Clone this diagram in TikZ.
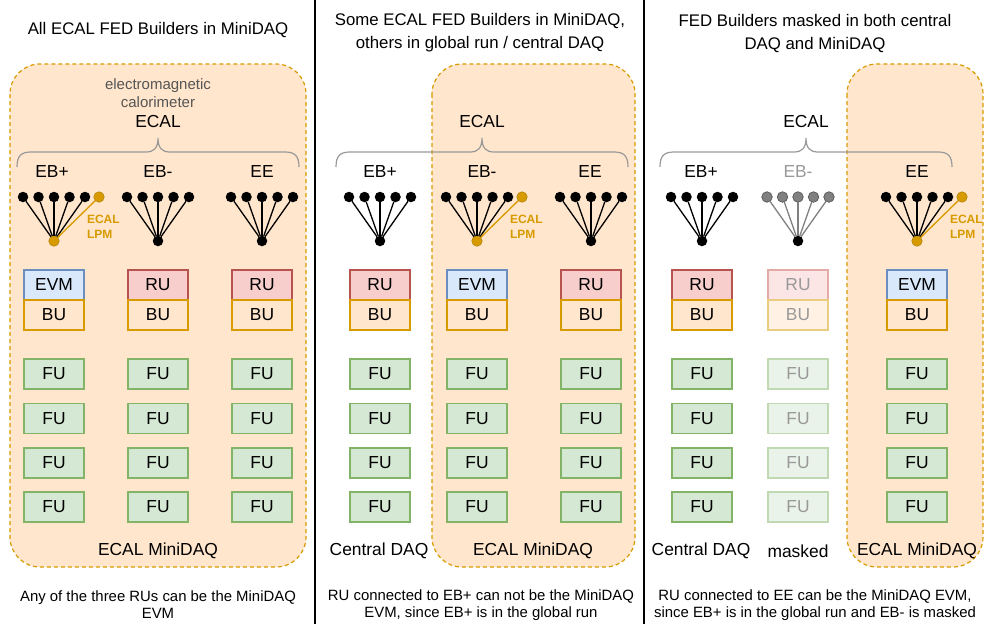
\documentclass[tikz,border=0pt]{standalone}
\usepackage{fontspec}
\setmainfont{Liberation Sans}
\definecolor{orfill}{HTML}{FFE6CC}
\definecolor{ordraw}{HTML}{D79B00}
\definecolor{rufill}{HTML}{F8CECC}
\definecolor{rudraw}{HTML}{B85450}
\definecolor{evfill}{HTML}{DAE8FC}
\definecolor{evdraw}{HTML}{6C8EBF}
\definecolor{fufill}{HTML}{D5E8D4}
\definecolor{fudraw}{HTML}{82B366}
\definecolor{bracegray}{HTML}{999999}
\definecolor{txtgray}{HTML}{555555}
\definecolor{fadetxt}{HTML}{999999}
\definecolor{rufade}{HTML}{FBE5E5}
\definecolor{rudrawfade}{HTML}{E3AAA8}
\definecolor{bufade}{HTML}{FFF2E5}
\definecolor{budrawfade}{HTML}{EBCD80}
\definecolor{fufade}{HTML}{EAF3E9}
\definecolor{fudrawfade}{HTML}{C0D9B2}
\definecolor{dotgray}{HTML}{808080}
\definecolor{dotgraydraw}{HTML}{555555}
\newcommand{\fsz}[2]{\fontsize{#1}{#2}\selectfont}
\newcommand{\mkfan}[3]{% #1 prefix, #2 cx, #3 style
  \node[bdot#3] (#1b) at (#2,241) {};
  \foreach \k/\o in {1/-31,2/-15.5,3/0,4/15.5,5/31}{
    \node[tdot#3] (#1t\k) at ({#2+\o},197) {};
    \draw[fline#3] (#1t\k) -- (#1b);
  }}
\newcommand{\mklpm}[2]{% #1 prefix, #2 cx
  \node[bdotlpm] (#1b) at (#2,241) {};
  \foreach \k/\o in {1/-31,2/-15.5,3/0,4/15.5,5/31}{
    \node[tdotA] (#1t\k) at ({#2+\o},197) {};
    \draw[flineA] (#1t\k) -- (#1b);
  }
  \node[bdotlpm] (#1t6) at ({#2+45},197) {};
  \draw[flinelpm] (#1t6) -- (#1b);
  \node[lpmtext] (#1lpm) at ({#2+33},227) {ECAL\\LPM};
}
\newcommand{\mkbrace}[3]{% left x, tip x, right x
  \draw[bracestyle] (#1,167) .. controls (#1,156) and ({#1+4},152) .. ({#1+14},152)
    -- ({#2-12},152) .. controls ({#2-4},152) and (#2,148) .. (#2,138)
    .. controls (#2,148) and ({#2+4},152) .. ({#2+12},152)
    -- ({#3-14},152) .. controls ({#3-4},152) and (#3,156) .. (#3,167);
}
\begin{document}
\begin{tikzpicture}[x=1pt,y=-1pt,
  every node/.style={inner sep=0pt, outer sep=0pt},
  zone/.style={draw=ordraw, fill=orfill, line width=1.2pt, dash pattern=on 4pt off 3pt, rounded corners=30pt},
  divider/.style={line width=2.8pt, black},
  bx/.style={draw, line width=1.1pt, minimum width=60pt, minimum height=30pt, font=\fsz{17.4}{20}},
  evm/.style={bx, draw=evdraw, fill=evfill},
  ru/.style={bx, draw=rudraw, fill=rufill},
  bu/.style={bx, draw=ordraw, fill=orfill},
  fu/.style={bx, draw=fudraw, fill=fufill},
  rufd/.style={bx, draw=rudrawfade, fill=rufade, text=fadetxt},
  bufd/.style={bx, draw=budrawfade, fill=bufade, text=fadetxt},
  fufd/.style={bx, draw=fudrawfade, fill=fufade, text=fadetxt},
  tdotA/.style={circle, fill=black, minimum size=10.5pt},
  bdotA/.style={circle, fill=black, minimum size=10.5pt},
  flineA/.style={black, line width=1.3pt},
  tdotG/.style={circle, fill=dotgray, draw=dotgraydraw, line width=0.7pt, minimum size=10.5pt},
  bdotG/.style={circle, fill=black, minimum size=10.5pt},
  flineG/.style={dotgray, line width=1.3pt},
  bdotlpm/.style={circle, fill=ordraw, draw=ordraw!80!black, line width=0.5pt, minimum size=10.5pt},
  flinelpm/.style={ordraw, line width=1.3pt},
  lpmtext/.style={align=left, anchor=west, text=ordraw, font=\fsz{12}{14.5}\bfseries, inner sep=0pt},
  lab/.style={font=\fsz{17.4}{20}},
  title/.style={font=\fsz{16.8}{23}, align=center},
  captext/.style={font=\fsz{14.9}{17}, align=center},
  bracestyle/.style={draw=bracegray, line width=1.2pt},
]
\useasboundingbox (0,0) rectangle (988,624);
% zones
\draw[zone] (10,64) rectangle (306,567);
\draw[zone] (432,64) rectangle (635,567);
\draw[zone] (847,64) rectangle (983,567);
% dividers
\draw[divider] (315,0) -- (315,624);
\draw[divider] (644,0) -- (644,624);
% titles
\node[title] (t1) at (158,30) {All ECAL FED Builders in MiniDAQ};
\node[title] (t2) at (480,33) {Some ECAL FED Builders in MiniDAQ,\\others in global run / central DAQ};
\node[title] (t3) at (815,33) {FED Builders masked in both central\\DAQ and MiniDAQ};
% panel 1 header
\node[font=\fsz{15}{18}, text=txtgray, align=center] (em) at (158,93) {electromagnetic\\calorimeter};
\node[lab] (ecal1) at (158,122) {ECAL};
\mkbrace{17}{158}{299}
\node[lab] (l1a) at (52,172) {EB+};
\node[lab] (l1b) at (158,172) {EB-};
\node[lab] (l1c) at (262,172) {EE};
\mklpm{fa}{54}
\mkfan{fb}{158}{A}
\mkfan{fc}{262}{A}
% panel 2 header
\node[lab] (ecal2) at (482,122) {ECAL};
\mkbrace{336}{482}{628}
\node[lab] (l2a) at (380,172) {EB+};
\node[lab] (l2b) at (482,172) {EB-};
\node[lab] (l2c) at (590,172) {EE};
\mkfan{fd}{380}{A}
\mklpm{fe}{477}
\mkfan{ff}{591}{A}
% panel 3 header
\node[lab] (ecal3) at (806,122) {ECAL};
\mkbrace{660}{806}{952}
\node[lab] (l3a) at (701,172) {EB+};
\node[lab, text=fadetxt] (l3b) at (798,172) {EB-};
\node[lab] (l3c) at (917,172) {EE};
\mkfan{fg}{702}{A}
\mkfan{fh}{798}{G}
\mklpm{fi}{917}
% boxes panel 1
\node[evm] (e1) at (54,285) {EVM};
\node[bu] (b1) at (54,315) {BU};
\node[ru] (r2) at (158,285) {RU};
\node[bu] (b2) at (158,315) {BU};
\node[ru] (r3) at (262,285) {RU};
\node[bu] (b3) at (262,315) {BU};
% panel 2
\node[ru] (r4) at (380,285) {RU};
\node[bu] (b4) at (380,315) {BU};
\node[evm] (e5) at (477,285) {EVM};
\node[bu] (b5) at (477,315) {BU};
\node[ru] (r6) at (591,285) {RU};
\node[bu] (b6) at (591,315) {BU};
% panel 3
\node[ru] (r7) at (702,285) {RU};
\node[bu] (b7) at (702,315) {BU};
\node[rufd] (r8) at (798,285) {RU};
\node[bufd] (b8) at (798,315) {BU};
\node[evm] (e9) at (917,285) {EVM};
\node[bu] (b9) at (917,315) {BU};
% FUs
\foreach \c/\x in {1/54,2/158,3/262,4/380,5/477,6/591,7/702,9/917}{
  \foreach \r/\y in {1/374,2/418.5,3/463,4/507}{
    \node[fu] (fu\c\r) at (\x,\y) {FU};
  }
}
\foreach \r/\y in {1/374,2/418.5,3/463,4/507}{
  \node[fufd] (fu8\r) at (798,\y) {FU};
}
% bottom labels
\node[lab] (m1) at (158,551) {ECAL MiniDAQ};
\node[lab] (c2) at (379,551) {Central DAQ};
\node[lab] (m2) at (533,551) {ECAL MiniDAQ};
\node[lab] (c3) at (701,551) {Central DAQ};
\node[lab] (k3) at (798,551) {masked};
\node[lab] (m3) at (917,551) {ECAL MiniDAQ};
% captions
\node[captext] (cap1) at (158,605) {Any of the three RUs can be the MiniDAQ\\EVM};
\node[captext] (cap2) at (481,605) {RU connected to EB+ can not be the MiniDAQ\\EVM, since EB+ is in the global run};
\node[captext] (cap3) at (815,605) {RU connected to EE can be the MiniDAQ EVM,\\since EB+ is in the global run and EB- is masked};
\end{tikzpicture}
\end{document}
